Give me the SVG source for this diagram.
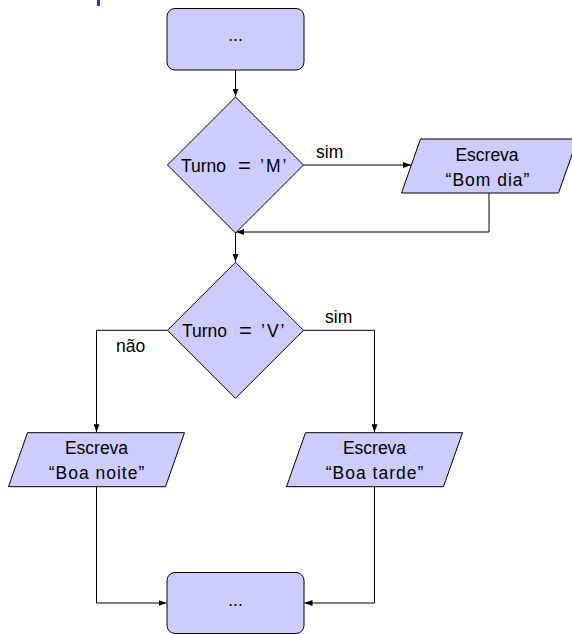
<svg xmlns="http://www.w3.org/2000/svg" width="572" height="634" viewBox="0 0 572 634">
  <style>
    .box { fill: #ccccff; stroke: #000; stroke-width: 1; }
    .lbl { font-family: "Liberation Sans", Arial, sans-serif; font-size: 17.5px; fill: #000; }
    .mid { text-anchor: middle; }
    .q { letter-spacing: 1px; }
    .qm { letter-spacing: 2px; }
    .eq { font-size: 22px; }
    .wire { fill: none; stroke: #000; stroke-width: 1; }
  </style>
  <defs>
    <marker id="tip" viewBox="0 0 8 6" refX="8" refY="3" markerWidth="8" markerHeight="6" markerUnits="userSpaceOnUse" orient="auto">
      <path d="M0,0 L8,3 L0,6 Z" fill="#000"/>
    </marker>
  </defs>

  <rect x="97" y="0" width="3" height="6" fill="#3535cc"/>

  <g id="connectors">
    <path class="wire" d="M235.5,70 V96.5" marker-end="url(#tip)"/>
    <path class="wire" d="M303.5,165 H411" marker-end="url(#tip)"/>
    <path class="wire" d="M489,193 V232 H236" marker-end="url(#tip)"/>
    <path class="wire" d="M235.5,233 V261.8" marker-end="url(#tip)"/>
    <path class="wire" d="M167.5,330.3 H96.5 V432.2" marker-end="url(#tip)"/>
    <path class="wire" d="M303.5,330.3 H374.5 V432.2" marker-end="url(#tip)"/>
    <path class="wire" d="M96.5,486.7 V603 H166.5" marker-end="url(#tip)"/>
    <path class="wire" d="M374.5,486.7 V603 H304.5" marker-end="url(#tip)"/>
    <text class="lbl" x="316" y="158">sim</text>
    <text class="lbl" x="325" y="323">sim</text>
    <text class="lbl" x="116" y="352">não</text>
  </g>

  <g id="start">
    <rect class="box" x="167" y="8.5" width="137" height="61.5" rx="8"/>
    <text class="lbl mid" x="235.5" y="41">...</text>
  </g>

  <g id="turno-m">
    <polygon class="box" points="235.5,97 303.5,165 235.5,233 167.5,165"/>
    <text class="lbl" y="171.5"><tspan x="181">Turno</tspan><tspan class="eq" x="238" dy="1">=</tspan><tspan class="qm" x="260" dy="-1">’M’</tspan></text>
  </g>

  <g id="bom-dia">
    <polygon class="box" points="420.5,139 577.5,139 558.5,193 401.5,193"/>
    <text class="lbl mid" x="487" y="160.6">Escreva</text>
    <text class="lbl mid q" x="488" y="185.6">“Bom dia”</text>
  </g>

  <g id="turno-v">
    <polygon class="box" points="235.5,262.3 303.5,330.3 235.5,398.3 167.5,330.3"/>
    <text class="lbl" y="336.5"><tspan x="182">Turno</tspan><tspan class="eq" x="239" dy="1">=</tspan><tspan class="qm" x="261" dy="-1">’V’</tspan></text>
  </g>

  <g id="boa-noite">
    <polygon class="box" points="27.5,432.7 184.5,432.7 165.5,486.7 8.5,486.7"/>
    <text class="lbl mid" x="96.5" y="454.3">Escreva</text>
    <text class="lbl mid q" x="97" y="479.3">“Boa noite”</text>
  </g>

  <g id="boa-tarde">
    <polygon class="box" points="305.5,432.7 462.5,432.7 443.5,486.7 286.5,486.7"/>
    <text class="lbl mid" x="374.5" y="454.3">Escreva</text>
    <text class="lbl mid q" x="375" y="479.3">“Boa tarde”</text>
  </g>

  <g id="end">
    <rect class="box" x="167" y="572.5" width="137" height="61" rx="8"/>
    <text class="lbl mid" x="235.5" y="606">...</text>
  </g>
</svg>
